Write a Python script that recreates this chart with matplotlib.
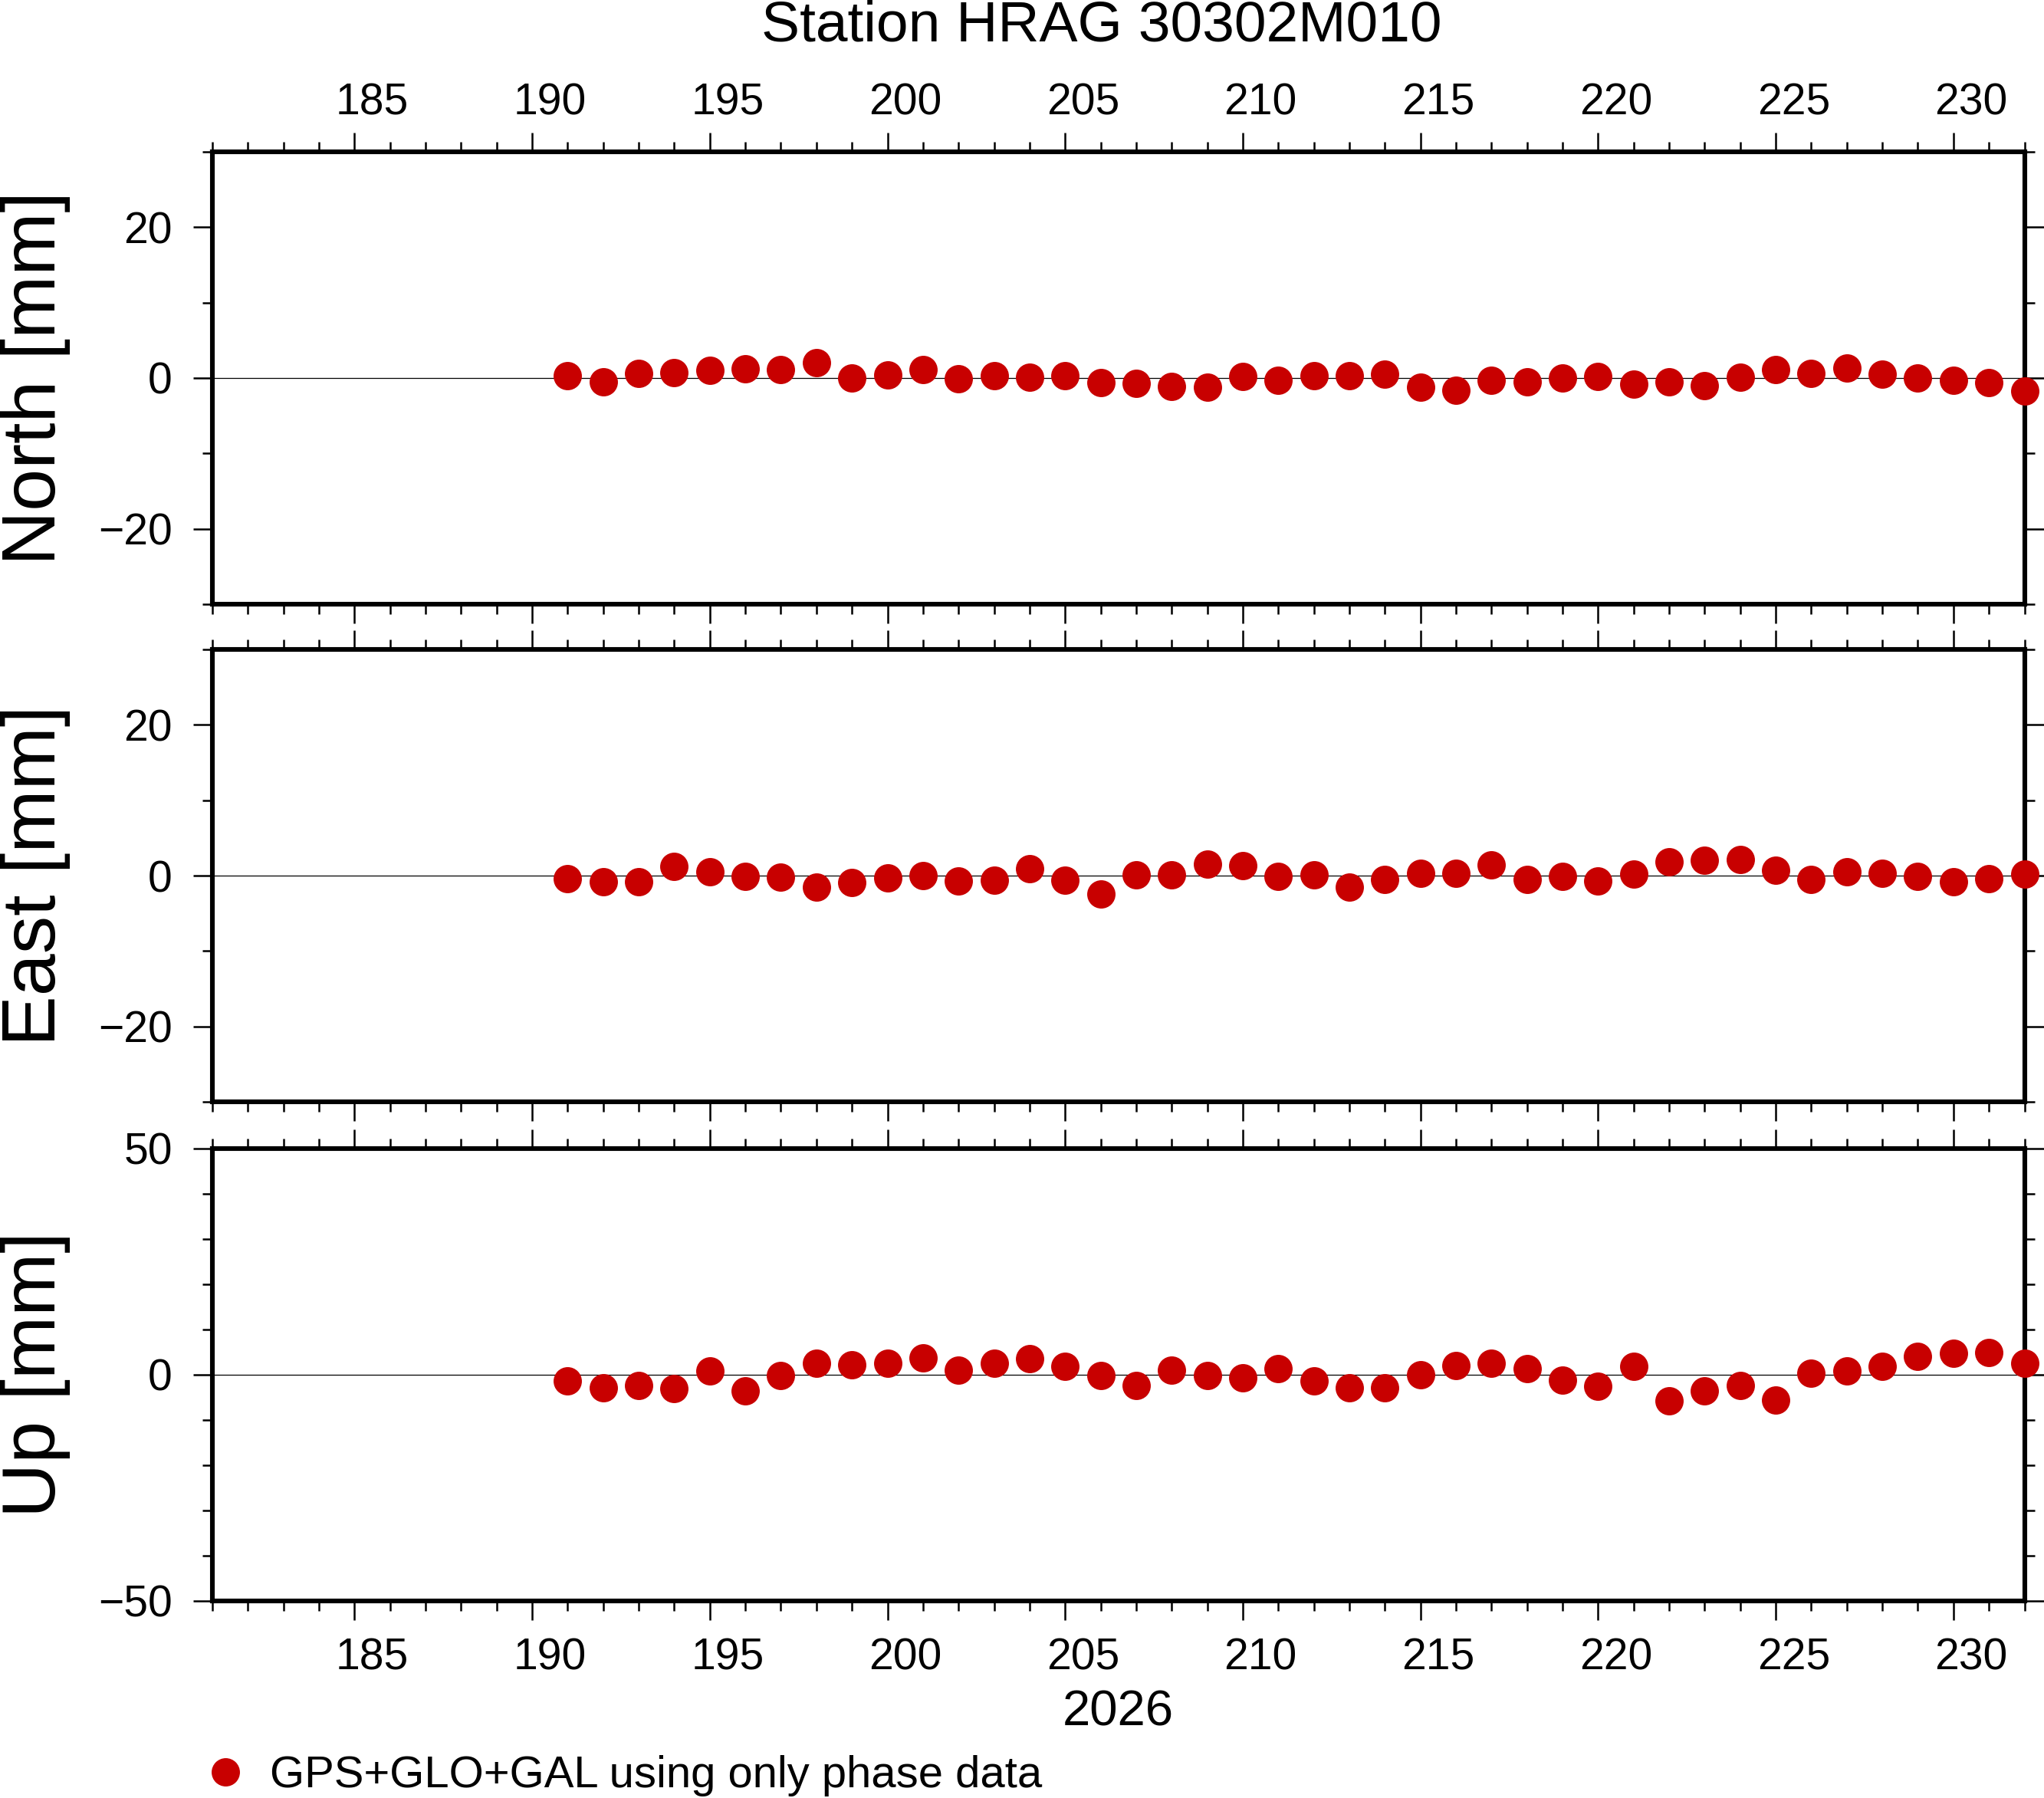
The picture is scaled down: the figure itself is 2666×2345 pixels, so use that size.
import matplotlib
matplotlib.use("Agg")
import matplotlib.pyplot as plt
from matplotlib.ticker import MultipleLocator, FixedLocator

plt.rcParams['font.family'] = ['Liberation Sans', 'DejaVu Sans']

# day of year 2026
days = [191, 192, 193, 194, 195, 196, 197, 198, 199, 200,
        201, 202, 203, 204, 205, 206, 207, 208, 209, 210,
        211, 212, 213, 214, 215, 216, 217, 218, 219, 220,
        221, 222, 223, 224, 225, 226, 227, 228, 229, 230,
        231, 232]

north = [0.3, -0.5, 0.6, 0.7, 1.0, 1.2, 1.1, 2.0, 0.0, 0.4,
         1.1, -0.1, 0.3, 0.1, 0.3, -0.6, -0.7, -1.1, -1.2, 0.2,
         -0.3, 0.3, 0.3, 0.5, -1.2, -1.6, -0.3, -0.5, 0.0, 0.2,
         -0.8, -0.5, -1.0, 0.1, 1.1, 0.6, 1.3, 0.5, 0.0, -0.3,
         -0.6, -1.7]
east = [-0.4, -0.8, -0.8, 1.2, 0.5, -0.1, -0.2, -1.5, -0.9, -0.3,
        0.0, -0.7, -0.6, 0.9, -0.6, -2.4, 0.1, 0.1, 1.5, 1.3,
        -0.1, 0.1, -1.5, -0.5, 0.3, 0.3, 1.4, -0.5, -0.1, -0.7,
        0.2, 1.8, 2.0, 2.1, 0.7, -0.5, 0.5, 0.3, -0.1, -0.8,
        -0.4, 0.2]
up = [-1.5, -2.9, -2.5, -3.2, 0.7, -3.6, -0.2, 2.4, 2.2, 2.4,
      3.6, 0.9, 2.4, 3.4, 1.7, -0.3, -2.4, 0.9, -0.3, -0.7,
      1.2, -1.4, -2.9, -2.9, 0.0, 1.9, 2.5, 1.2, -1.2, -2.7,
      1.7, -5.8, -3.6, -2.4, -5.6, 0.3, 0.7, 1.7, 3.9, 4.6,
      4.8, 2.4]

panel_names = ['North [mm]', 'East [mm]', 'Up [mm]']
panel_data = [north, east, up]
panel_lim = [30, 30, 50]
panel_major = [20, 20, 50]
year_label = '2026'
day_labels = [185, 190, 195, 200, 205, 210, 215, 220, 225, 230]
title = 'Station HRAG 30302M010'
legend_label = 'GPS+GLO+GAL using only phase data'
red = '#c80000'

W, H, DPI = 2666, 2345, 200
fig = plt.figure(figsize=(W / DPI, H / DPI), dpi=DPI)

left = 277 / W
width = (2640.5 - 277) / W
height = 590 / H
bottoms = [1 - 788 / H, 1 - 1437 / H, 1 - 2087.5 / H]

axes = []
for i in range(3):
    ax = fig.add_axes([left, bottoms[i], width, height])
    ax.set_xlim(181, 232)
    lim = panel_lim[i]
    ax.set_ylim(-lim, lim)
    ax.axhline(0, color='black', lw=0.45, zorder=1)
    ax.plot(days, panel_data[i], 'o', color=red, ms=13.3, mec='none',
            clip_on=False, zorder=5, label=legend_label if i == 0 else None)

    ax.xaxis.set_major_locator(MultipleLocator(5))
    ax.xaxis.set_minor_locator(MultipleLocator(1))
    ax.yaxis.set_major_locator(MultipleLocator(panel_major[i]))
    ax.yaxis.set_minor_locator(MultipleLocator(10))
    ax.tick_params(which='both', direction='out', top=True, right=True,
                   bottom=True, left=True, width=0.9, labelbottom=False,
                   labeltop=False, labelsize=20.5, pad=9.7)
    ax.tick_params(which='major', length=9.1)
    ax.tick_params(which='minor', length=4.6)
    for s in ax.spines.values():
        s.set_linewidth(2.2)

    ax.set_ylabel(panel_names[i], fontsize=35.5, va='center')
    ax.yaxis.set_label_coords((47 - 277) / (2640.5 - 277), 0.5)
    axes.append(ax)

# day labels sit in the middle of each day interval
label_pos = [d + 0.5 for d in day_labels]
top_sec = axes[0].secondary_xaxis('top')
top_sec.xaxis.set_major_locator(FixedLocator(label_pos))
top_sec.set_xticklabels([str(d) for d in day_labels])
top_sec.tick_params(length=0, labelsize=20.5, pad=13)
top_sec.spines['top'].set_visible(False)

bot_sec = axes[2].secondary_xaxis('bottom')
bot_sec.xaxis.set_major_locator(FixedLocator(label_pos))
bot_sec.set_xticklabels([str(d) for d in day_labels])
bot_sec.tick_params(length=0, labelsize=20.5, pad=17.3)
bot_sec.spines['bottom'].set_visible(False)
bot_sec.set_xlabel(year_label, fontsize=23.5, labelpad=5)

fig.text(1437 / W, 1 - 34 / H, title, fontsize=27, ha='center', va='center')

fig.legend(handles=axes[0].get_lines()[1:2], loc='center left',
           bbox_to_anchor=(265 / W, 1 - 2316 / H), frameon=False,
           fontsize=20.9, borderpad=0, borderaxespad=0, handlelength=1.0,
           handletextpad=0.5, numpoints=1)

fig.savefig('out.png', dpi=DPI)
